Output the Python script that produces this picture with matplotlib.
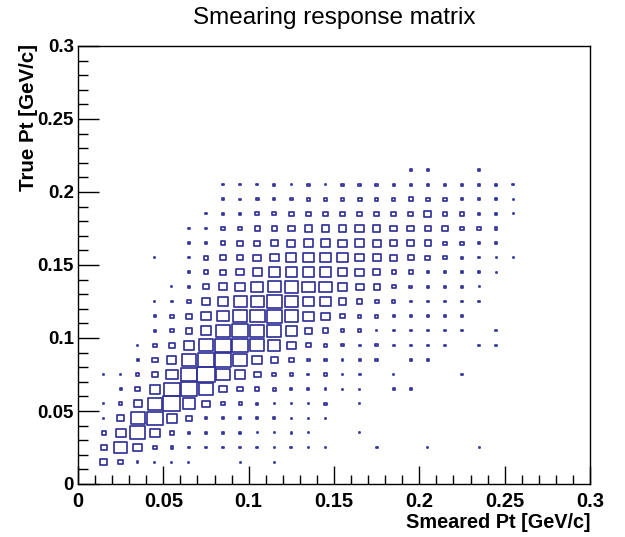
import numpy as np
import matplotlib
matplotlib.use("Agg")
import matplotlib.pyplot as plt
from matplotlib.patches import Rectangle
from matplotlib.collections import PatchCollection
from matplotlib.ticker import MultipleLocator, FuncFormatter

plt.rcParams['font.family'] = ['Liberation Sans', 'DejaVu Sans']

# bin centres (GeV/c), bin width 0.01
smeared_pt = [0.015, 0.025, 0.035, 0.045, 0.055, 0.065, 0.075, 0.085, 0.095, 0.105,
              0.115, 0.125, 0.135, 0.145, 0.155, 0.165, 0.175, 0.185, 0.195, 0.205,
              0.215, 0.225, 0.235, 0.245, 0.255]
true_pt = [0.015, 0.025, 0.035, 0.045, 0.055, 0.065, 0.075, 0.085, 0.095, 0.105,
           0.115, 0.125, 0.135, 0.145, 0.155, 0.165, 0.175, 0.185, 0.195, 0.205, 0.215]
bin_w = 0.01

# counts, one row per true Pt bin (bottom to top), columns = smeared Pt bins
counts = [
    [40, 20, 2, 1, 1, 1, 0, 0, 1, 0, 1, 0, 0, 0, 0, 0, 0, 0, 0, 0, 0, 0, 0, 0, 0],
    [32, 144, 62, 14, 6, 2, 2, 2, 2, 3, 2, 3, 1, 1, 0, 0, 4, 0, 0, 1, 0, 0, 1, 0, 0],
    [14, 90, 202, 78, 14, 6, 4, 4, 2, 1, 1, 2, 1, 0, 0, 1, 0, 0, 0, 0, 0, 0, 0, 0, 0],
    [1, 40, 160, 212, 90, 32, 6, 4, 4, 5, 4, 1, 1, 1, 0, 0, 0, 0, 0, 0, 0, 0, 0, 0, 0],
    [1, 8, 58, 176, 250, 130, 44, 10, 8, 5, 2, 2, 1, 4, 0, 1, 0, 0, 0, 0, 0, 0, 0, 0, 0],
    [0, 4, 22, 96, 202, 212, 160, 48, 26, 14, 10, 4, 4, 3, 1, 1, 0, 4, 2, 0, 0, 0, 0, 0, 0],
    [1, 2, 8, 36, 116, 221, 250, 160, 78, 40, 17, 6, 4, 8, 2, 4, 0, 2, 0, 0, 0, 2, 0, 0, 0],
    [0, 0, 5, 26, 73, 160, 212, 230, 160, 90, 44, 22, 5, 5, 3, 3, 6, 0, 4, 2, 0, 0, 0, 0, 0],
    [0, 0, 2, 10, 29, 84, 176, 212, 212, 160, 130, 62, 17, 10, 6, 3, 5, 3, 2, 2, 3, 0, 2, 2, 0],
    [0, 0, 0, 4, 14, 40, 102, 176, 202, 176, 176, 109, 48, 29, 10, 10, 2, 3, 3, 3, 2, 2, 0, 2, 0],
    [0, 0, 0, 4, 12, 29, 78, 130, 176, 185, 202, 160, 96, 58, 20, 10, 10, 5, 2, 2, 2, 2, 0, 0, 0],
    [0, 0, 0, 1, 4, 14, 48, 78, 144, 137, 185, 144, 109, 96, 53, 26, 14, 10, 4, 2, 3, 3, 2, 0, 0],
    [0, 0, 0, 0, 1, 6, 29, 58, 90, 122, 144, 152, 130, 130, 73, 53, 32, 12, 8, 5, 5, 2, 1, 0, 0],
    [0, 0, 0, 0, 0, 6, 17, 36, 48, 73, 109, 109, 109, 109, 78, 58, 40, 17, 17, 5, 4, 4, 4, 1, 0],
    [0, 0, 0, 1, 0, 3, 17, 29, 29, 48, 62, 90, 102, 102, 96, 62, 58, 40, 29, 22, 12, 4, 2, 1, 1],
    [0, 0, 0, 0, 0, 2, 4, 20, 29, 29, 48, 58, 73, 68, 58, 78, 58, 40, 40, 32, 12, 12, 2, 2, 0],
    [0, 0, 0, 0, 0, 4, 1, 10, 14, 20, 20, 36, 44, 44, 44, 58, 44, 40, 40, 26, 29, 10, 12, 5, 0],
    [0, 0, 0, 0, 0, 0, 1, 4, 5, 10, 12, 17, 20, 20, 22, 26, 20, 26, 22, 40, 20, 17, 5, 5, 1],
    [0, 0, 0, 0, 0, 0, 0, 4, 2, 6, 4, 6, 8, 8, 10, 14, 10, 10, 17, 10, 14, 5, 6, 5, 1],
    [0, 0, 0, 0, 0, 0, 0, 2, 2, 2, 4, 2, 5, 3, 5, 6, 6, 4, 4, 6, 4, 5, 5, 4, 2],
    [0, 0, 0, 0, 0, 0, 0, 0, 0, 0, 0, 0, 0, 0, 0, 0, 0, 0, 4, 2, 0, 0, 2, 0, 0],
]

fig = plt.figure(figsize=(6.25, 5.37), dpi=100)
ax = fig.add_axes([78/625, 53/537, 512/625, 438/537])

cz = np.array(counts, dtype=float)
zmax = cz.max()
boxes = []
for j, y in enumerate(true_pt):
    for i, x in enumerate(smeared_pt):
        c = cz[j, i]
        if c <= 0:
            continue
        s = np.sqrt(c / zmax) * bin_w
        boxes.append(Rectangle((x - s/2, y - s/2), s, s))

pc = PatchCollection(boxes, facecolor='none', edgecolor='#333399', linewidth=1.25)
ax.add_collection(pc)

ax.set_xlim(0, 0.3)
ax.set_ylim(0, 0.3)

fmt = FuncFormatter(lambda v, p: '%g' % round(v, 3))
for axis in (ax.xaxis, ax.yaxis):
    axis.set_major_locator(MultipleLocator(0.05))
    axis.set_minor_locator(MultipleLocator(0.01))
    axis.set_major_formatter(fmt)
ax.tick_params(which='both', direction='in', top=False, right=False, width=1)
ax.tick_params(axis='x', which='major', length=13, pad=6, labelsize=14.5)
ax.tick_params(axis='x', which='minor', length=6.5)
ax.tick_params(axis='y', which='major', length=15, pad=3, labelsize=13.5)
ax.tick_params(axis='y', which='minor', length=7.5)
for lab in ax.get_xticklabels() + ax.get_yticklabels():
    lab.set_fontweight('bold')

for sp in ax.spines.values():
    sp.set_linewidth(1)

fig.text(590/625, 1 - 523/537, 'Smeared Pt [GeV/c]', fontsize=14.3, fontweight='bold',
         ha='right', va='center')
fig.text(29/625, 1 - 44/537, 'True Pt [GeV/c]', fontsize=14.8, fontweight='bold',
         ha='center', va='top', rotation=90)

fig.text(334/625, 1 - 18/537, 'Smearing response matrix', ha='center', va='center', fontsize=17.5)

fig.savefig('out.png', dpi=100)
